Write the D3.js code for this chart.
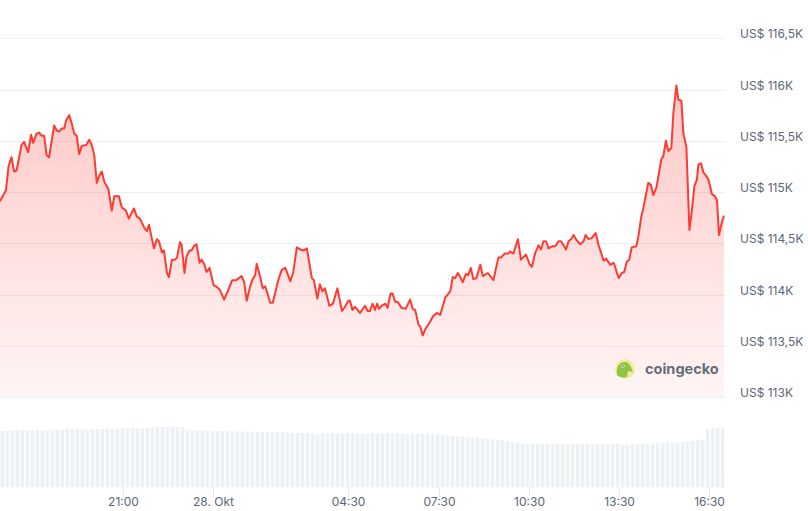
<!DOCTYPE html>
<html>
<head>
<meta charset="utf-8">
<script src="https://cdn.jsdelivr.net/npm/d3@7"></script>
<style>
  body { margin: 0; background: #fff; }
  svg { display: block; font-family: Inter, "Noto Sans", sans-serif; }
</style>
</head>
<body>
<svg width="808" height="511"></svg>
<script>
// minutes after 27 Oct 16:55
const minutes = [0,12,17,23,28,33,43,48,56,62,66,73,78,83,88,93,98,108,113,118,123,128,132,138,143,148,153,158,163,172,178,183,188,193,198,203,208,216,223,228,237,243,251,257,267,273,279,289,293,297,307,313,317,323,327,333,337,343,349,353,359,362,368,372,378,382,388,392,398,402,407,412,418,426,431,438,447,455,463,471,482,487,492,499,503,509,512,519,524,529,539,544,555,562,569,579,585,592,599,606,612,622,626,633,638,643,648,657,664,673,682,688,695,698,703,708,718,728,733,738,743,748,752,756,761,769,773,779,783,788,793,801,809,818,823,828,835,838,843,849,856,864,871,878,888,898,903,908,913,918,923,929,934,939,944,950,958,963,973,984,994,999,1007,1014,1017,1024,1033,1039,1049,1056,1061,1067,1074,1079,1084,1089,1094,1101,1107,1114,1119,1129,1134,1139,1144,1150,1157,1164,1168,1174,1180,1188,1194,1204,1209,1217,1224,1234,1240,1245,1250,1255,1260,1269,1273,1279,1283,1289,1293,1298,1303,1309,1313,1319,1323,1328,1333,1339,1343,1349,1353,1359,1363,1369,1375,1380,1385,1390,1393,1398,1403,1408,1413,1420,1426,1430,1434,1440,1444];
const prices = [114910,115020,115250,115340,115200,115210,115460,115490,115390,115560,115480,115570,115580,115550,115550,115360,115340,115650,115600,115590,115620,115620,115700,115750,115670,115570,115550,115370,115450,115460,115510,115460,115360,115090,115160,115200,115100,115030,114820,114960,114960,114850,114820,114740,114840,114760,114740,114640,114620,114680,114450,114540,114520,114410,114430,114210,114170,114340,114340,114360,114510,114490,114210,114370,114430,114430,114480,114490,114310,114340,114300,114220,114260,114090,114080,114050,113950,114040,114140,114140,114180,114120,113940,114080,114140,114190,114300,114170,114060,114080,113920,113920,114140,114240,114260,114130,114220,114460,114440,114430,114450,114160,114140,113960,114100,114030,114060,113890,113910,114060,113840,113880,113940,113940,113850,113880,113820,113890,113840,113840,113910,113850,113910,113860,113890,113910,113870,114010,114010,113930,113930,113870,113860,113950,113860,113850,113700,113690,113600,113670,113720,113790,113820,113800,113970,114030,114170,114160,114210,114170,114120,114200,114190,114260,114150,114160,114290,114180,114210,114140,114360,114360,114400,114400,114420,114400,114540,114340,114390,114300,114270,114400,114480,114440,114520,114520,114450,114470,114470,114520,114520,114440,114520,114540,114580,114530,114490,114520,114580,114540,114550,114600,114480,114330,114350,114290,114310,114160,114210,114220,114320,114340,114460,114470,114560,114760,114840,114990,115090,115070,114970,115040,115150,115320,115350,115500,115400,115430,115770,116040,115900,115890,115570,115440,114630,114820,115060,115120,115270,115280,115190,115160,115120,114980,114960,114920,114580,114710,114770];

// 24h volume, 10-minute bars (US$ bn)
const volumes = [56.3,56.3,56.8,57.3,57.3,57.3,57.3,57.3,57.3,56.8,57.3,57.8,57.3,58.3,58.3,58.1,57.3,58.3,58.3,58.3,58.3,58.5,58.5,58.6,58.8,59.0,59.0,59.0,59.1,59.3,60.1,60.3,60.3,60.3,60.1,60.3,60.3,57.8,57.3,57.3,57.0,56.6,56.6,56.0,56.3,56.0,56.0,56.0,56.0,55.8,55.6,55.6,55.3,55.3,55.3,55.3,55.1,54.8,54.3,54.3,54.3,54.3,54.1,52.6,54.1,54.1,54.1,54.0,54.1,54.1,54.0,53.2,53.6,54.0,54.1,53.6,54.1,54.0,54.1,54.1,53.3,53.3,53.3,53.3,53.3,53.3,53.3,52.8,52.3,52.0,51.3,51.0,50.6,50.3,50.0,49.6,49.3,48.3,48.0,47.6,47.0,46.0,45.3,44.6,44.0,43.8,43.8,43.8,43.8,43.8,43.8,43.8,43.3,43.3,43.3,43.3,43.3,43.3,43.3,43.3,43.3,43.3,43.3,43.3,42.3,42.3,43.0,43.3,43.8,44.0,44.0,44.0,44.6,44.8,44.6,45.0,45.6,46.0,46.6,47.0,47.8,58.0,59.0,60.0,59.6];

const priceTicks = [113000,113500,114000,114500,115000,115500,116000,116500];
const timeTicks = ["2025-10-27T21:00","2025-10-28T00:00","2025-10-28T04:30","2025-10-28T07:30","2025-10-28T10:30","2025-10-28T13:30","2025-10-28T16:30"];

const start = new Date("2025-10-27T16:55");
const data = minutes.map((m, i) => ({ t: new Date(start.getTime() + m * 60000), p: prices[i] }));

const svg = d3.select("svg");
const plotRight = 725;

const x = d3.scaleTime().domain(d3.extent(data, d => d.t)).range([0, 724]);
const y = d3.scaleLinear().domain([113000, 116500]).range([397, 38.3]);
const xb = d3.scaleBand().domain(d3.range(volumes.length)).range([0, plotRight]).paddingInner(0.26).paddingOuter(0.1);
const yv = d3.scaleLinear().domain([0, 61]).range([487.3, 426.3]);

const defs = svg.append("defs");
const grad = defs.append("linearGradient")
  .attr("id", "fill").attr("gradientUnits", "userSpaceOnUse")
  .attr("x1", 0).attr("x2", 0).attr("y1", 85).attr("y2", 397);
grad.append("stop").attr("offset", 0).attr("stop-color", "#ff3a33").attr("stop-opacity", 0.28);
grad.append("stop").attr("offset", 1).attr("stop-color", "#ff3a33").attr("stop-opacity", 0.05);

// grid + price labels
svg.append("g").selectAll("line").data(priceTicks).join("line")
  .attr("x1", 0).attr("x2", plotRight)
  .attr("y1", d => Math.round(y(d)) + 0.5).attr("y2", d => Math.round(y(d)) + 0.5)
  .attr("stroke", "#eceff3").attr("stroke-width", 1);

svg.append("g").selectAll("text").data(priceTicks).join("text")
  .attr("x", 740).attr("y", d => y(d))
  .attr("fill", "#5c6676").attr("font-size", 12)
  .text(d => "US$ " + (d / 1000).toString().replace(".", ",") + "K");

// volume bars
svg.append("g").selectAll("rect").data(volumes).join("rect")
  .attr("x", (d, i) => xb(i)).attr("width", xb.bandwidth())
  .attr("y", d => yv(d)).attr("height", d => yv(0) - yv(d))
  .attr("fill", "#eef1f4");

// area + line
svg.append("path").datum(data)
  .attr("fill", "url(#fill)")
  .attr("d", d3.area().x(d => x(d.t)).y0(y(113000)).y1(d => y(d.p)));

svg.append("path").datum(data)
  .attr("fill", "none").attr("stroke", "#ff3a33").attr("stroke-width", 2)
  .attr("stroke-linejoin", "round")
  .attr("d", d3.line().x(d => x(d.t)).y(d => y(d.p)));

// x axis
const fmt = d => d.getHours() === 0 && d.getMinutes() === 0 ? d.getDate() + ". Okt" : d3.timeFormat("%H:%M")(d);
const tg = svg.append("g").selectAll("g").data(timeTicks.map(s => new Date(s))).join("g")
  .attr("transform", d => `translate(${Math.round(x(d)) + 0.5},0)`);
tg.append("line").attr("y1", 487).attr("y2", 497).attr("stroke", "#e3e6eb");
tg.append("text").attr("y", 505.5).attr("text-anchor", "middle")
  .attr("fill", "#5c6676").attr("font-size", 12).text(fmt);

// watermark
const wm = svg.append("g").attr("transform", "translate(625,369)");
wm.append("circle").attr("r", 10).attr("fill", "#f7e99e");
wm.append("path").attr("d", "M-8,6 C-9,-2 -6,-7 0,-7 C3,-7 5,-5 6,-2 L8,3 L3,2 L2,8 C-2,9 -6,8 -8,6 Z")
  .attr("fill", "#8dc647");
wm.append("circle").attr("cx", -2).attr("cy", -3).attr("r", 1.6).attr("fill", "#fff");
wm.append("circle").attr("cx", -2).attr("cy", -3).attr("r", 0.8).attr("fill", "#333");
svg.append("text").attr("x", 645).attr("y", 374).attr("fill", "#646e7b")
  .attr("font-size", 14.5).attr("font-weight", 700).text("coingecko");
</script>
</body>
</html>
